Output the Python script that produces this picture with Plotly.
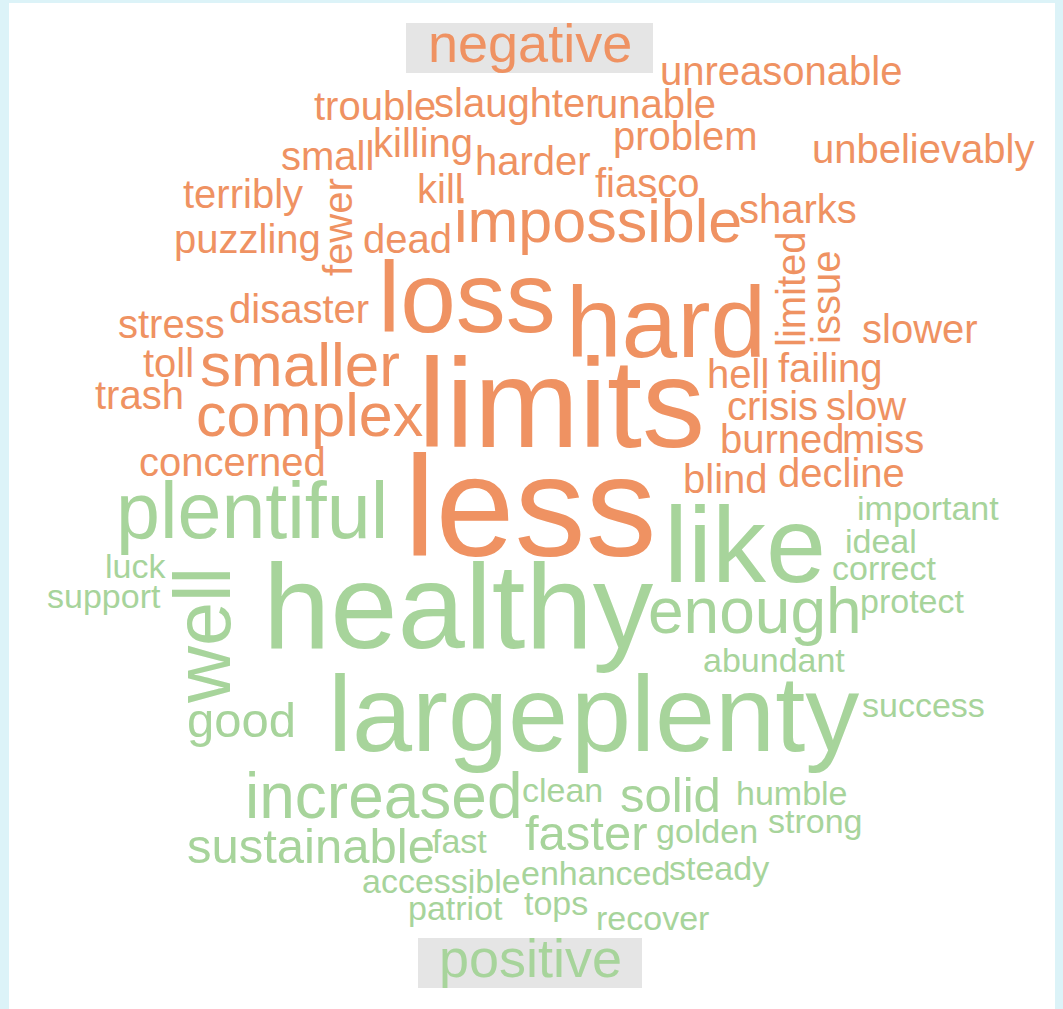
import plotly.graph_objects as go

# ---------------- data ----------------
# negative words (orange)
neg_words = ["unreasonable", "trouble", "slaughter", "unable", "problem", "unbelievably",
             "small", "killing", "harder", "terribly", "fewer", "kill", "fiasco", "sharks",
             "impossible", "puzzling", "dead", "limited", "issue", "loss", "hard", "stress",
             "disaster", "slower", "toll", "smaller", "trash", "limits", "hell", "failing",
             "complex", "crisis", "slow", "burned", "miss", "concerned", "blind", "decline", "less"]
neg_weight = [40, 40, 40, 40, 40, 40,
              40, 40, 40, 40, 40, 40, 40, 40,
              61, 40, 40, 40, 40, 100, 100, 40,
              40, 40, 40, 62, 40, 126, 40, 40,
              61, 40, 40, 40, 40, 40, 40, 40, 142]
neg_x = [781, 375, 516, 656, 685, 923,
         327, 423, 533, 243, 338, 440, 647, 798,
         598, 247, 407, 791, 826, 467, 666, 171,
         299, 920, 168, 300, 139, 561, 738, 830,
         309, 772, 866, 782, 883, 232, 725, 841, 530]
neg_y = [71, 106, 103, 104, 136, 149,
         156, 143, 161, 194, 227, 189, 183, 209,
         221, 239, 239, 289, 298, 297, 322, 324,
         309, 329, 363, 364, 395, 403, 374, 368,
         415, 406, 406, 439, 439, 462, 479, 473, 506]
neg_vertical = ["fewer", "limited", "issue"]

# positive words (green)
pos_words = ["plentiful", "like", "important", "ideal", "correct", "luck", "support", "well",
             "healthy", "enough", "protect", "abundant", "good", "large", "plenty", "success",
             "increased", "clean", "solid", "humble", "sustainable", "fast", "faster", "golden",
             "strong", "accessible", "enhanced", "steady", "patriot", "tops", "recover"]
pos_weight = [79, 108, 34, 34, 34, 34, 34, 79,
              121, 64, 34, 34, 49, 108, 108, 34,
              64, 34, 49, 34, 49, 34, 49, 34,
              34, 34, 34, 34, 34, 34, 34]
pos_x = [252, 745, 928, 881, 884, 135, 104, 202,
         458, 755, 912, 774, 241, 448, 715, 923,
         384, 562, 670, 792, 311, 459, 586, 707,
         815, 441, 595, 719, 455, 556, 652]
pos_y = [510, 544, 508, 541, 568, 566, 596, 636,
         606, 611, 601, 660, 720, 713, 713, 705,
         796, 790, 795, 793, 846, 841, 833, 831,
         821, 881, 873, 868, 908, 903, 918]
pos_vertical = ["well"]

# group labels
group_labels = ["negative", "positive"]
label_x = [530, 530]
label_y = [43, 958]
label_box_x0 = [406, 418]
label_box_x1 = [653, 642]
label_box_y0 = [23, 938]
label_box_y1 = [73, 988]

NEG_COLOR = "#EF9262"
POS_COLOR = "#A7D49B"
FONT = "Liberation Sans, Arial, Helvetica, sans-serif"

fig = go.Figure()
# invisible anchor trace so the axes exist
fig.add_trace(go.Scatter(x=neg_x + pos_x, y=neg_y + pos_y, mode="markers",
                         marker=dict(size=1, opacity=0), hoverinfo="skip", showlegend=False))

annotations = []
shapes = []
for i, g in enumerate(group_labels):
    shapes.append(dict(type="rect", xref="x", yref="y",
                       x0=label_box_x0[i], x1=label_box_x1[i],
                       y0=label_box_y0[i], y1=label_box_y1[i],
                       fillcolor="#E5E5E5", line=dict(width=0), layer="below"))
    annotations.append(dict(x=label_x[i], y=label_y[i], xref="x", yref="y", text=g,
                            showarrow=False, xanchor="center", yanchor="middle",
                            font=dict(family=FONT, size=54,
                                      color=NEG_COLOR if i == 0 else POS_COLOR)))

def add_words(words, weights, xs, ys, vertical, color):
    for w, s, x, y in zip(words, weights, xs, ys):
        annotations.append(dict(x=x, y=y, xref="x", yref="y", text=w, showarrow=False,
                                xanchor="center", yanchor="middle",
                                textangle=-90 if w in vertical else 0,
                                borderpad=0,
                                font=dict(family=FONT, size=s, color=color)))

add_words(neg_words, neg_weight, neg_x, neg_y, neg_vertical, NEG_COLOR)
add_words(pos_words, pos_weight, pos_x, pos_y, pos_vertical, POS_COLOR)

fig.update_layout(
    width=1063, height=1009,
    margin=dict(l=9, r=8, t=3, b=0, pad=0),
    paper_bgcolor="#DCF3F8",
    plot_bgcolor="#FFFFFF",
    xaxis=dict(range=[9, 1055], visible=False, fixedrange=True),
    yaxis=dict(range=[1009, 3], visible=False, fixedrange=True),
    annotations=annotations,
    shapes=shapes,
    showlegend=False,
)

fig.write_html("out.html", config={"displayModeBar": False},
               post_script="document.body.style.margin='0px';document.body.style.overflow='hidden';")
